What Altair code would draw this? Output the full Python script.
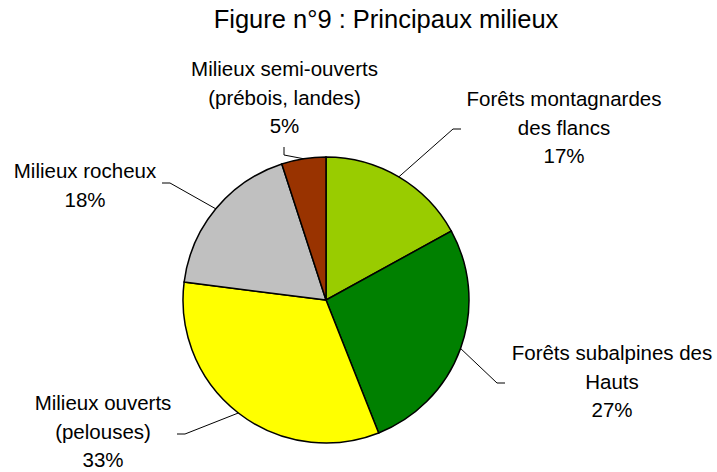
import altair as alt
import pandas as pd
import numpy as np

# ---- data ----
categories = [
    "Forêts montagnardes des flancs",
    "Forêts subalpines des Hauts",
    "Milieux ouverts (pelouses)",
    "Milieux rocheux",
    "Milieux semi-ouverts (prébois, landes)",
]
values = [17, 27, 33, 18, 5]
label_lines = [
    ["Forêts montagnardes", "des flancs"],
    ["Forêts subalpines des", "Hauts"],
    ["Milieux ouverts", "(pelouses)"],
    ["Milieux rocheux"],
    ["Milieux semi-ouverts", "(prébois, landes)"],
]
colors = ["#99CC00", "#008000", "#FFFF00", "#C0C0C0", "#993300"]
title_text = "Figure n°9 : Principaux milieux"

# ---- layout (not data) ----
W, H = 717, 472
CX, CY, R = 326, 300, 143
label_pos = [(564, 106), (612, 360), (103, 410), (85, 178), (284.5, 76)]
leader_pts = [
    [(453, 129), (461, 129)],
    [(497, 383), (505, 383)],
    [(185, 434), (177, 434)],
    [(170, 183), (162, 183)],
    [(284, 155), (284, 147)],
]

total = float(sum(values))
cum = np.cumsum([0] + values[:-1])
mid = [(c + v / 2) / total * 2 * np.pi for c, v in zip(cum, values)]

df = pd.DataFrame({
    "idx": range(len(categories)),
    "category": categories,
    "value": values,
    "label": ["\n".join(l + [f"{v}%"]) for l, v in zip(label_lines, values)],
    "lx": [p[0] for p in label_pos],
    "ly": [p[1] for p in label_pos],
})

rows = []
for i, (cat, a) in enumerate(zip(categories, mid)):
    pts = [(CX + R * np.sin(a), CY - R * np.cos(a))] + leader_pts[i]
    for k, (px, py) in enumerate(pts):
        rows.append({"category": cat, "ord": k, "x": px, "y": py})
line_df = pd.DataFrame(rows)

xs = alt.Scale(domain=[0, W], range=[0, W], nice=False, zero=False)
ys = alt.Scale(domain=[0, H], reverse=True, nice=False, zero=False)

pie = alt.Chart(df).mark_arc(outerRadius=R, stroke="black", strokeWidth=1.5).encode(
    theta=alt.Theta("value:Q", stack=True),
    color=alt.Color("category:N", scale=alt.Scale(domain=categories, range=colors), legend=None),
    order=alt.Order("idx:Q"),
    x=alt.value(CX),
    y=alt.value(CY),
)

leaders = alt.Chart(line_df).mark_line(color="black", strokeWidth=1).encode(
    x=alt.X("x:Q", scale=xs, axis=None),
    y=alt.Y("y:Q", scale=ys, axis=None),
    detail="category:N",
    order="ord:Q",
)

texts = alt.Chart(df).mark_text(
    font="Liberation Sans", fontSize=20.5, lineBreak="\n", lineHeight=28.5,
    align="center", baseline="alphabetic", color="black",
).encode(
    x=alt.X("lx:Q", scale=xs, axis=None),
    y=alt.Y("ly:Q", scale=ys, axis=None),
    text="label:N",
)

title = alt.Chart(pd.DataFrame({"t": [title_text]})).mark_text(
    font="Liberation Sans", fontSize=25.5, align="center", baseline="alphabetic", color="black",
).encode(x=alt.value(386), y=alt.value(28), text="t:N")

chart = alt.layer(pie, leaders, texts, title).properties(
    width=W, height=H, padding=0, autosize=alt.AutoSizeParams(type="none"),
    background="white",
).configure_view(stroke=None)

chart.save("out.html", embed_options={"renderer": "svg", "actions": False})
